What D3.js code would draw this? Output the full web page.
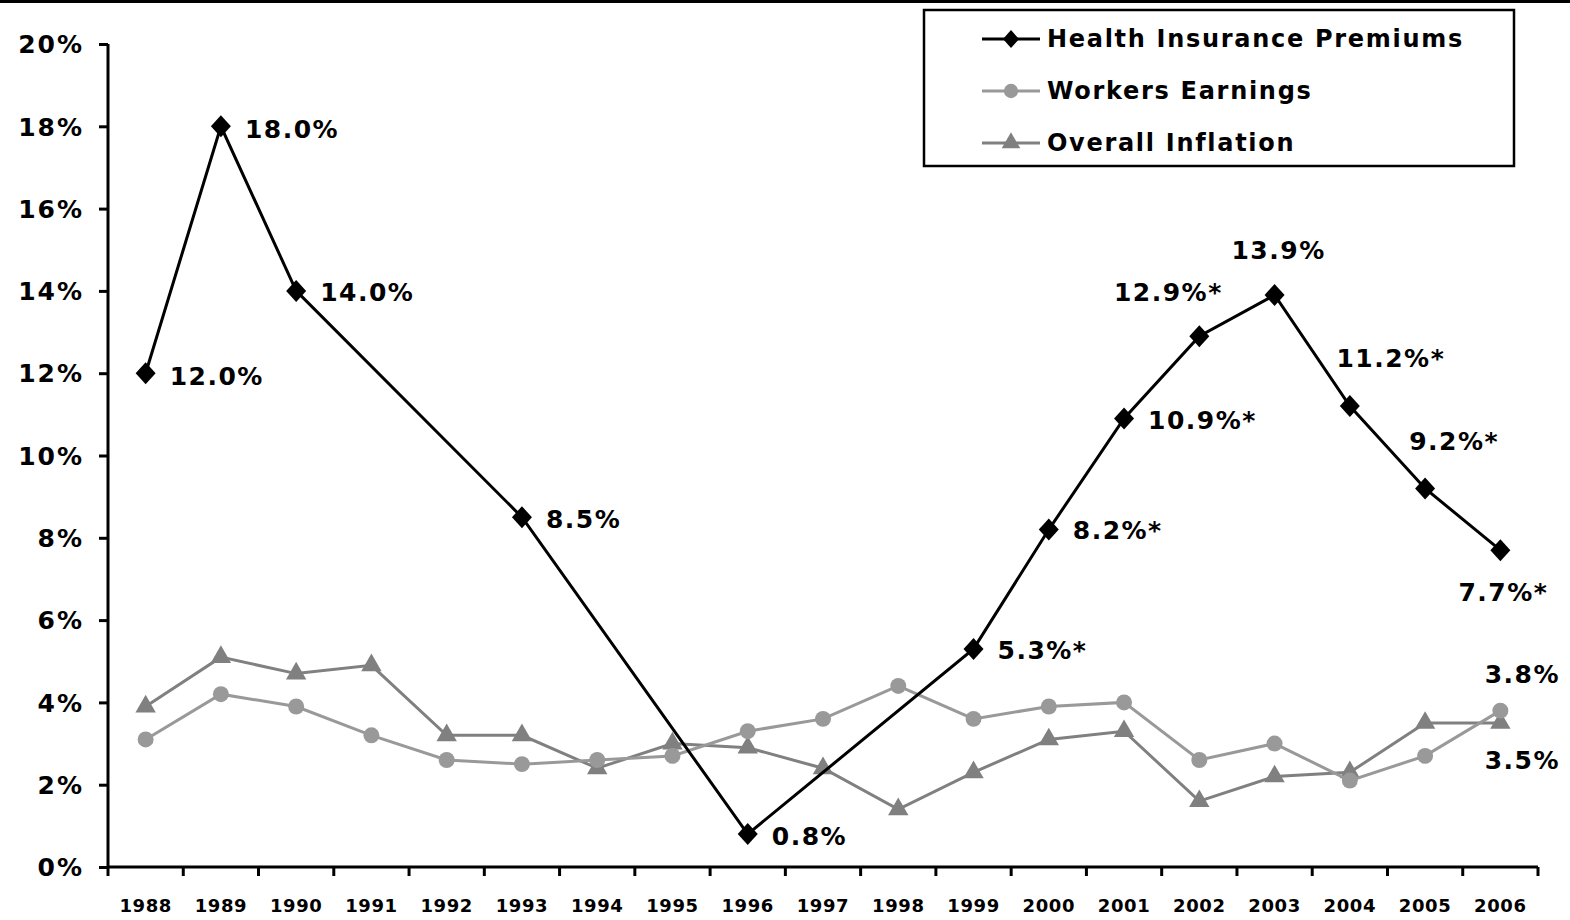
<!DOCTYPE html>
<html>
<head>
<meta charset="utf-8">
<script src="https://d3js.org/d3.v7.min.js"></script>
<style>
  body { margin: 0; background: #fff; }
  svg { display: block; }
  text { font-family: "DejaVu Sans", Verdana, sans-serif; font-weight: bold; fill: #000; }
</style>
</head>
<body>
<svg id="canvas"></svg>
<script>
// data
let years = ["1988","1989","1990","1991","1992","1993","1994","1995","1996","1997",
             "1998","1999","2000","2001","2002","2003","2004","2005","2006"]
let premiumYears = ["1988","1989","1990","1993","1996","1999","2000","2001","2002","2003","2004","2005","2006"]
let premiums = [12.0, 18.0, 14.0, 8.5, 0.8, 5.3, 8.2, 10.9, 12.9, 13.9, 11.2, 9.2, 7.7]
let premiumLabels = ["12.0%","18.0%","14.0%","8.5%","0.8%","5.3%*","8.2%*","10.9%*","12.9%*","13.9%","11.2%*","9.2%*","7.7%*"]
let earnings = [3.1, 4.2, 3.9, 3.2, 2.6, 2.5, 2.6, 2.7, 3.3, 3.6, 4.4, 3.6, 3.9, 4.0, 2.6, 3.0, 2.1, 2.7, 3.8]
let inflation = [3.9, 5.1, 4.7, 4.9, 3.2, 3.2, 2.4, 3.0, 2.9, 2.4, 1.4, 2.3, 3.1, 3.3, 1.6, 2.2, 2.3, 3.5, 3.5]
let yTicks = [0, 2, 4, 6, 8, 10, 12, 14, 16, 18, 20]
let seriesNames = ["Health Insurance Premiums", "Workers Earnings", "Overall Inflation"]

const width = 1570, height = 920
const margin = {left: 108, right: 32, top: 44, bottom: 53}

const svg = d3.select("#canvas").attr("width", width).attr("height", height)

const x = d3.scaleBand().domain(years).range([margin.left, width - margin.right]).padding(0)
const y = d3.scaleLinear().domain([0, 20]).range([height - margin.bottom, margin.top])
const cx = d => x(d) + x.bandwidth() / 2

const black = "#000", lightGray = "#999999", darkGray = "#808080"

// top frame line
svg.append("line").attr("x1", 0).attr("x2", width).attr("y1", 1.5).attr("y2", 1.5)
    .attr("stroke", "#000").attr("stroke-width", 3)

// y axis
const yAxis = svg.append("g")
    .attr("transform", `translate(${margin.left},0)`)
    .call(d3.axisLeft(y).tickValues(yTicks).tickFormat(d => d + "%").tickSize(9).tickPadding(15))
yAxis.select(".domain").attr("stroke-width", 3).attr("d", `M0,${y(20)}V${y(0)}`)
yAxis.selectAll(".tick line").attr("stroke-width", 3)
yAxis.selectAll(".tick text").style("font-size", "25px").style("font-family", "DejaVu Sans")
    .style("font-weight", "bold").style("letter-spacing", "2px").attr("dy", "0.35em")

// x axis
const xAxis = svg.append("g")
    .attr("transform", `translate(0,${y(0)})`)
    .call(d3.axisBottom(x).tickSize(0).tickPadding(32))
xAxis.select(".domain").attr("stroke-width", 3).attr("d", `M${margin.left},0H${width - margin.right}`)
xAxis.selectAll(".tick text").style("font-size", "18px").style("font-family", "DejaVu Sans")
    .style("font-weight", "bold").style("letter-spacing", "0.6px")
// ticks between categories
xAxis.selectAll(".bound").data(years.concat(["end"]))
    .enter().append("line")
    .attr("class", "bound")
    .attr("x1", (d, i) => margin.left + i * x.bandwidth())
    .attr("x2", (d, i) => margin.left + i * x.bandwidth())
    .attr("y1", 0).attr("y2", 9)
    .attr("stroke", "#000").attr("stroke-width", 3)

const line = d3.line().x(d => cx(d.year)).y(d => y(d.v))

let earnData = years.map((yr, i) => ({year: yr, v: earnings[i]}))
let inflData = years.map((yr, i) => ({year: yr, v: inflation[i]}))
let premData = premiumYears.map((yr, i) => ({year: yr, v: premiums[i], label: premiumLabels[i]}))

const diamond = () => "M0,-11L10,0L0,11L-10,0Z"
const smallDiamond = () => "M0,-9L8,0L0,9L-8,0Z"
const circle = d3.symbol().type(d3.symbolCircle).size(200)
const triangle = d3.symbol().type(d3.symbolTriangle).size(180)

function drawSeries(data, color, sym) {
    svg.append("path").datum(data)
        .attr("fill", "none").attr("stroke", color).attr("stroke-width", 3)
        .attr("d", line)
    svg.append("g").selectAll("path").data(data)
        .enter().append("path")
        .attr("transform", d => `translate(${cx(d.year)},${y(d.v)})`)
        .attr("d", sym)
        .attr("fill", color)
}

drawSeries(inflData, darkGray, triangle)
drawSeries(earnData, lightGray, circle)
drawSeries(premData, black, diamond)

// data labels, offsets relative to point
let labelOffsets = {
    "1988": [24, 3, "start"], "1989": [24, 3, "start"], "1990": [24, 1, "start"],
    "1993": [24, 2, "start"], "1996": [24, 2, "start"], "1999": [24, 1, "start"],
    "2000": [24, 1, "start"], "2001": [24, 2, "start"], "2002": [-31, -44, "middle"],
    "2003": [4, -45, "middle"], "2004": [41, -48, "middle"], "2005": [29, -47, "middle"],
    "2006": [3, 42, "middle"]
}
svg.append("g").selectAll("text").data(premData)
    .enter().append("text")
    .attr("x", d => cx(d.year) + labelOffsets[d.year][0])
    .attr("y", d => y(d.v) + labelOffsets[d.year][1])
    .attr("dy", "0.35em")
    .attr("text-anchor", d => labelOffsets[d.year][2])
    .style("font-size", "25px")
    .style("letter-spacing", "1.5px")
    .text(d => d.label)

// end labels for earnings and inflation
let last = years.length - 1
svg.append("text").attr("x", cx(years[last]) + 22).attr("y", y(earnings[last]) - 36)
    .attr("dy", "0.35em").attr("text-anchor", "middle")
    .style("font-size", "25px").style("letter-spacing", "1.5px").text(earnings[last].toFixed(1) + "%")
svg.append("text").attr("x", cx(years[last]) + 22).attr("y", y(inflation[last]) + 37)
    .attr("dy", "0.35em").attr("text-anchor", "middle")
    .style("font-size", "25px").style("letter-spacing", "1.5px").text(inflation[last].toFixed(1) + "%")

// legend
const legend = svg.append("g").attr("transform", "translate(924,10)")
legend.append("rect").attr("width", 590).attr("height", 156)
    .attr("fill", "#fff").attr("stroke", "#000").attr("stroke-width", 2.5)
let legColors = [black, lightGray, darkGray]
let legSyms = [smallDiamond, d3.symbol().type(d3.symbolCircle).size(160), d3.symbol().type(d3.symbolTriangle).size(150)]
seriesNames.forEach((name, i) => {
    let ly = 29 + i * 52
    legend.append("line").attr("x1", 58).attr("x2", 116).attr("y1", ly).attr("y2", ly)
        .attr("stroke", legColors[i]).attr("stroke-width", 3)
    legend.append("path").attr("transform", `translate(87,${ly})`)
        .attr("d", legSyms[i]).attr("fill", legColors[i])
    legend.append("text").attr("x", 123).attr("y", ly).attr("dy", "0.35em")
        .style("font-size", "24px").style("letter-spacing", "1.7px").text(name)
})
</script>
</body>
</html>
